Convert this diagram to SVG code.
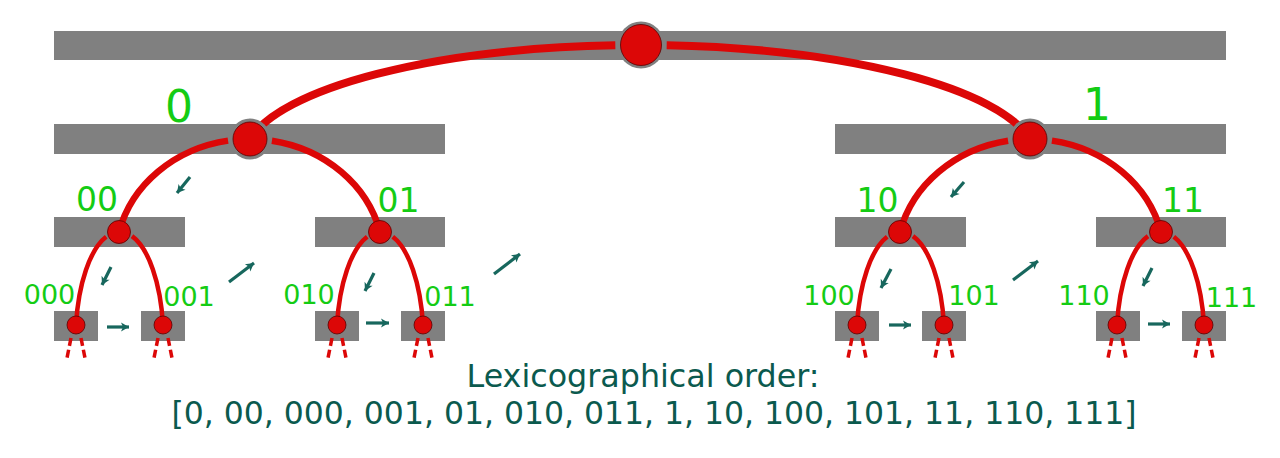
<svg xmlns="http://www.w3.org/2000/svg" width="1280" height="458" viewBox="0 0 1280 458">
<style>
.bar{fill:#808080}
.ring{fill:#808080}
.dot{fill:#dc0707;stroke:#5a0000;stroke-width:0.8}
.e{fill:none;stroke:#dc0707}
.e0{stroke-width:8;stroke-dasharray:0 26 3000}
.e1{stroke-width:6.5;stroke-dasharray:0 22 3000}
.e2{stroke-width:4.5;stroke-dasharray:0 14 3000}
.d{stroke:#dc0707;stroke-width:3.5;stroke-dasharray:8 4;fill:none}
.ar{stroke:#17675d;stroke-width:3.2;fill:none;marker-end:url(#ah)}
text{font-family:"DejaVu Sans","Liberation Sans",sans-serif;text-anchor:middle}
.l1{font-size:44px;fill:#14cc14}
.l2{font-size:33px;fill:#14cc14}
.l3{font-size:27px;fill:#14cc14}
.cap{font-size:31.5px;fill:#0b5a4e}
</style>
<defs>
<marker id="ah" markerUnits="userSpaceOnUse" viewBox="-9 -5 10 10" refX="0" refY="0" markerWidth="10" markerHeight="10" orient="auto">
<path d="M-8,-4.5 L0,0 L-8,4.5 L-6,0 z" fill="#17675d"/>
</marker>
</defs>
<rect width="1280" height="458" fill="#ffffff"/>
<g id="bars">
<rect class="bar" x="54" y="31" width="1172" height="29"/>
<rect class="bar" x="54" y="124" width="391" height="30"/>
<rect class="bar" x="835" y="124" width="391" height="30"/>
<rect class="bar" x="54" y="217" width="131" height="30"/>
<rect class="bar" x="315" y="217" width="130" height="30"/>
<rect class="bar" x="835" y="217" width="131" height="30"/>
<rect class="bar" x="1096" y="217" width="130" height="30"/>
<rect class="bar" x="54" y="311" width="44" height="30"/>
<rect class="bar" x="141" y="311" width="44" height="30"/>
<rect class="bar" x="315" y="311" width="44" height="30"/>
<rect class="bar" x="401" y="311" width="44" height="30"/>
<rect class="bar" x="835" y="311" width="44" height="30"/>
<rect class="bar" x="922" y="311" width="44" height="30"/>
<rect class="bar" x="1096" y="311" width="44" height="30"/>
<rect class="bar" x="1182" y="311" width="44" height="30"/>
</g>
<g id="connectors">
<path class="e e0" d="M641,45 A397 115 0 0 0 250 139"/>
<path class="e e0" d="M641,45 A397 115 0 0 1 1030 139"/>
<path class="e e1" d="M250,139 A134.7 121 0 0 0 119 232"/>
<path class="e e1" d="M250,139 A134.7 121 0 0 1 380 232"/>
<path class="e e1" d="M1030,139 A134.7 121 0 0 0 900 232"/>
<path class="e e1" d="M1030,139 A134.7 121 0 0 1 1161 232"/>
<path class="e e2" d="M119,232 A43.4 108 0 0 0 76 325"/>
<path class="e e2" d="M119,232 A43.4 108 0 0 1 163 325"/>
<path class="e e2" d="M380,232 A43.4 108 0 0 0 337 325"/>
<path class="e e2" d="M380,232 A43.4 108 0 0 1 423 325"/>
<path class="e e2" d="M900,232 A43.4 108 0 0 0 857 325"/>
<path class="e e2" d="M900,232 A43.4 108 0 0 1 944 325"/>
<path class="e e2" d="M1161,232 A43.4 108 0 0 0 1117 325"/>
<path class="e e2" d="M1161,232 A43.4 108 0 0 1 1204 325"/>
<path class="d" d="M71,338 L67,358 M81,338 L85,358 M158,338 L154,358 M168,338 L172,358 M332,338 L328,358 M342,338 L346,358 M418,338 L414,358 M428,338 L432,358 M852,338 L848,358 M862,338 L866,358 M939,338 L935,358 M949,338 L953,358 M1112,338 L1108,358 M1122,338 L1126,358 M1199,338 L1195,358 M1209,338 L1213,358"/>
<line class="ar" x1="190" y1="177" x2="177" y2="193"/>
<line class="ar" x1="111" y1="267" x2="102" y2="285"/>
<line class="ar" x1="107" y1="327" x2="129" y2="327"/>
<line class="ar" x1="229" y1="282" x2="254" y2="263"/>
<line class="ar" x1="374" y1="273" x2="365" y2="291"/>
<line class="ar" x1="366" y1="323" x2="389" y2="323"/>
<line class="ar" x1="494" y1="274" x2="520" y2="254"/>
<line class="ar" x1="964" y1="182" x2="951" y2="197"/>
<line class="ar" x1="891" y1="269" x2="881" y2="288"/>
<line class="ar" x1="889" y1="325" x2="911" y2="325"/>
<line class="ar" x1="1013" y1="280" x2="1038" y2="261"/>
<line class="ar" x1="1152" y1="268" x2="1143" y2="286"/>
<line class="ar" x1="1148" y1="324" x2="1170" y2="324"/>
</g>
<g id="node-root"><circle class="ring" cx="641" cy="45" r="23.5"/><circle class="dot" cx="641" cy="45" r="20.5"/></g>
<g id="node-0"><circle class="ring" cx="250" cy="139" r="20.5"/><circle class="dot" cx="250" cy="139" r="17"/><text class="l1" x="179" y="122">0</text></g>
<g id="node-1"><circle class="ring" cx="1030" cy="139" r="20.5"/><circle class="dot" cx="1030" cy="139" r="17"/><text class="l1" x="1097" y="120">1</text></g>
<g id="node-00"><circle class="dot" cx="119" cy="232" r="11.5"/><text class="l2" x="97" y="211">00</text></g>
<g id="node-01"><circle class="dot" cx="380" cy="232" r="11.5"/><text class="l2" x="398.5" y="212">01</text></g>
<g id="node-10"><circle class="dot" cx="900" cy="232" r="11.5"/><text class="l2" x="877.5" y="212">10</text></g>
<g id="node-11"><circle class="dot" cx="1161" cy="232" r="11.5"/><text class="l2" x="1183" y="212">11</text></g>
<g id="node-000"><circle class="dot" cx="76" cy="325" r="9"/><text class="l3" x="49.5" y="304">000</text></g>
<g id="node-001"><circle class="dot" cx="163" cy="325" r="9"/><text class="l3" x="189" y="306">001</text></g>
<g id="node-010"><circle class="dot" cx="337" cy="325" r="9"/><text class="l3" x="309" y="304">010</text></g>
<g id="node-011"><circle class="dot" cx="423" cy="325" r="9"/><text class="l3" x="450" y="306">011</text></g>
<g id="node-100"><circle class="dot" cx="857" cy="325" r="9"/><text class="l3" x="829" y="305">100</text></g>
<g id="node-101"><circle class="dot" cx="944" cy="325" r="9"/><text class="l3" x="974" y="305">101</text></g>
<g id="node-110"><circle class="dot" cx="1117" cy="325" r="9"/><text class="l3" x="1084" y="305">110</text></g>
<g id="node-111"><circle class="dot" cx="1204" cy="325" r="9"/><text class="l3" x="1231.5" y="307">111</text></g>
<g id="caption">
<text class="cap" x="643" y="387" textLength="353" lengthAdjust="spacingAndGlyphs">Lexicographical order:</text>
<text class="cap" x="654" y="424" textLength="965" lengthAdjust="spacingAndGlyphs">[0, 00, 000, 001, 01, 010, 011, 1, 10, 100, 101, 11, 110, 111]</text>
</g>
</svg>
